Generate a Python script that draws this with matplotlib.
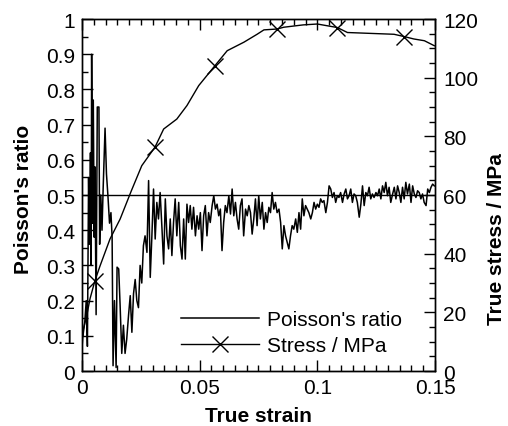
"""
Poisson's ratio and true stress against true strain, on twin y axes
"""

import matplotlib
matplotlib.use("Agg")
import matplotlib.pyplot as plt  # type: ignore
from matplotlib.ticker import MultipleLocator

plt.rcParams['font.family'] = ['Liberation Sans', 'DejaVu Sans']

# Poisson's ratio, early (noisy) part of the test
early_strain = [0.0004, 0.0012, 0.0018, 0.0023, 0.0028, 0.0032, 0.0036, 0.0039,
                0.0041, 0.0045, 0.0048, 0.0052, 0.0055, 0.0060, 0.0065, 0.0072,
                0.0075, 0.0080, 0.0085, 0.0090, 0.0098, 0.0104, 0.0110, 0.0117,
                0.0123, 0.0128, 0.0132, 0.0138, 0.0145, 0.0149, 0.0156, 0.0162,
                0.0169, 0.0176, 0.0183, 0.0190, 0.0198, 0.0205, 0.0212, 0.0219,
                0.0226, 0.0233, 0.0240, 0.0247, 0.0254, 0.0261]
early_ratio = [0.10, 0.14, 0.20, 0.07, 0.55, 0.36, 0.62, 0.30,
               0.90, 0.42, 0.77, 0.38, 0.58, 0.16, 0.75, 0.75,
               0.36, 0.50, 0.40, 0.52, 0.69, 0.56, 0.50, 0.42,
               0.45, 0.38, 0.015, 0.20, 0.01, 0.295, 0.29, 0.186,
               0.05, 0.13, 0.05, 0.09, 0.16, 0.214, 0.11, 0.22,
               0.26, 0.20, 0.18, 0.30, 0.25, 0.356]

# Poisson's ratio, rest of the test
late_strain = [0.0268, 0.0276, 0.0283, 0.0290, 0.0297, 0.0304, 0.0311, 0.0318, 0.0325, 0.0332,
               0.0340, 0.0347, 0.0354, 0.0361, 0.0368, 0.0375, 0.0382, 0.0389, 0.0396, 0.0403,
               0.0411, 0.0418, 0.0425, 0.0432, 0.0439, 0.0446, 0.0453, 0.0460, 0.0467, 0.0474,
               0.0482, 0.0489, 0.0496, 0.0503, 0.0510, 0.0517, 0.0524, 0.0531, 0.0538, 0.0545,
               0.0553, 0.0560, 0.0567, 0.0574, 0.0581, 0.0588, 0.0595, 0.0602, 0.0609, 0.0616,
               0.0624, 0.0631, 0.0638, 0.0645, 0.0652, 0.0659, 0.0666, 0.0673, 0.0680, 0.0687,
               0.0695, 0.0702, 0.0709, 0.0716, 0.0723, 0.0730, 0.0737, 0.0744, 0.0751, 0.0758,
               0.0766, 0.0773, 0.0780, 0.0787, 0.0794, 0.0801, 0.0808, 0.0815, 0.0822, 0.0829,
               0.0837, 0.0844, 0.0851, 0.0858, 0.0865, 0.0872, 0.0879, 0.0886, 0.0893, 0.0900,
               0.0908, 0.0915, 0.0922, 0.0929, 0.0936, 0.0943, 0.0950, 0.0957, 0.0964, 0.0972,
               0.0979, 0.0986, 0.0993, 0.1000, 0.1007, 0.1014, 0.1021, 0.1028, 0.1036, 0.1043,
               0.1050, 0.1057, 0.1064, 0.1071, 0.1078, 0.1085, 0.1092, 0.1099, 0.1107, 0.1114,
               0.1121, 0.1128, 0.1135, 0.1142, 0.1149, 0.1156, 0.1163, 0.1170, 0.1178, 0.1185,
               0.1192, 0.1199, 0.1206, 0.1213, 0.1220, 0.1227, 0.1234, 0.1241, 0.1249, 0.1256,
               0.1263, 0.1270, 0.1277, 0.1284, 0.1291, 0.1298, 0.1305, 0.1312, 0.1320, 0.1327,
               0.1334, 0.1341, 0.1348, 0.1355, 0.1362, 0.1369, 0.1376, 0.1383, 0.1391, 0.1398,
               0.1405, 0.1412, 0.1419, 0.1426, 0.1433, 0.1440, 0.1447, 0.1454, 0.1462, 0.1469,
               0.1476, 0.1483, 0.1490, 0.1497]
late_ratio = [0.384, 0.337, 0.541, 0.266, 0.384, 0.517, 0.375, 0.479, 0.432, 0.507,
              0.403, 0.304, 0.489, 0.384, 0.347, 0.432, 0.328, 0.422, 0.489, 0.384,
              0.479, 0.356, 0.318, 0.432, 0.318, 0.474, 0.422, 0.470, 0.403, 0.465,
              0.384, 0.441, 0.403, 0.450, 0.342, 0.441, 0.470, 0.384, 0.450, 0.422,
              0.470, 0.498, 0.460, 0.474, 0.441, 0.460, 0.342, 0.422, 0.470, 0.450,
              0.498, 0.446, 0.517, 0.441, 0.479, 0.432, 0.403, 0.470, 0.489, 0.384,
              0.460, 0.441, 0.470, 0.450, 0.389, 0.432, 0.489, 0.413, 0.498, 0.432,
              0.479, 0.403, 0.450, 0.422, 0.465, 0.450, 0.507, 0.460, 0.479, 0.450,
              0.460, 0.422, 0.347, 0.413, 0.384, 0.366, 0.347, 0.384, 0.413, 0.403,
              0.432, 0.394, 0.450, 0.403, 0.489, 0.441, 0.470, 0.460, 0.450, 0.432,
              0.450, 0.479, 0.460, 0.474, 0.465, 0.489, 0.479, 0.484, 0.450, 0.479,
              0.526, 0.517, 0.493, 0.507, 0.479, 0.498, 0.493, 0.507, 0.479, 0.503,
              0.517, 0.489, 0.498, 0.517, 0.479, 0.503, 0.498, 0.479, 0.437, 0.474,
              0.526, 0.470, 0.507, 0.498, 0.522, 0.489, 0.503, 0.493, 0.507, 0.498,
              0.517, 0.489, 0.526, 0.507, 0.536, 0.498, 0.522, 0.479, 0.503, 0.522,
              0.489, 0.526, 0.507, 0.479, 0.522, 0.489, 0.536, 0.503, 0.531, 0.479,
              0.526, 0.503, 0.493, 0.512, 0.507, 0.489, 0.503, 0.479, 0.470, 0.517,
              0.507, 0.522, 0.531, 0.526]

# True stress [MPa]
stress_strain = [0.0000, 0.0006, 0.0020, 0.0034, 0.0055, 0.0077, 0.0119, 0.0162,
                 0.0209, 0.0254, 0.0310, 0.0347, 0.0403, 0.0446, 0.0496, 0.0564,
                 0.0617, 0.0688, 0.0744, 0.0773, 0.0830, 0.0857, 0.0940, 0.1000,
                 0.1085, 0.1128, 0.1326, 0.1370, 0.1410, 0.1455, 0.1497]
stress_values = [7.5, 14.3, 18.8, 24.6, 30.8, 35.9, 45.0, 51.8,
                 61.3, 70.0, 76.3, 82.5, 85.9, 90.5, 97.3, 104.0,
                 109.2, 112.1, 114.8, 116.3, 116.6, 117.2, 118.0, 118.3,
                 117.1, 115.4, 114.8, 114.0, 113.2, 112.6, 110.9]
# strains at which the stress curve carries a cross
stress_marker_strain = [0.0055, 0.0310, 0.0564, 0.0830, 0.1085, 0.1370]

x_ticks = [0, 0.05, 0.1, 0.15]
x_tick_labels = ["0", "0.05", "0.1", "0.15"]
left_ticks = [0, 0.1, 0.2, 0.3, 0.4, 0.5, 0.6, 0.7, 0.8, 0.9, 1.0]
left_tick_labels = ["0", "0.1", "0.2", "0.3", "0.4", "0.5", "0.6", "0.7", "0.8", "0.9", "1"]
right_ticks = [0, 20, 40, 60, 80, 100, 120]

poisson_strain = early_strain + late_strain
poisson_ratio = early_ratio + late_ratio
marker_idx = [stress_strain.index(s) for s in stress_marker_strain]

FS = 15

fig = plt.figure(figsize=(5.08, 4.27), dpi=100)
ax1 = fig.add_axes([0.1614, 0.1288, 0.6949, 0.8243])
ax2 = ax1.twinx()

line_p, = ax1.plot(poisson_strain, poisson_ratio, color='black', linewidth=1.1)
ax1.axhline(0.5, color='black', linewidth=1.0)
line_s, = ax2.plot(stress_strain, stress_values, color='black', linewidth=1.0,
                   marker='x', markersize=11, markeredgewidth=1.0,
                   markevery=marker_idx)

ax1.set_xlim(0, 0.15)
ax1.set_ylim(0, 1)
ax2.set_ylim(0, 120)

ax1.set_xticks(x_ticks)
ax1.set_xticklabels(x_tick_labels)
ax1.set_yticks(left_ticks)
ax1.set_yticklabels(left_tick_labels)
ax2.set_yticks(right_ticks)
ax1.xaxis.set_minor_locator(MultipleLocator(0.005))
ax1.yaxis.set_minor_locator(MultipleLocator(0.05))
ax2.yaxis.set_minor_locator(MultipleLocator(5))

ax1.tick_params(which='both', direction='in', top=True, right=False,
                labelsize=FS)
ax1.tick_params(axis='x', which='major', pad=5)
ax1.tick_params(axis='y', which='major', pad=5)
ax1.tick_params(which='major', length=8, width=1)
ax1.tick_params(which='minor', length=4, width=1)
ax2.tick_params(which='both', direction='in', labelsize=FS)
ax2.tick_params(which='major', length=8, width=1, pad=6)
ax2.tick_params(which='minor', length=4, width=1)

for ax in (ax1, ax2):
    for spine in ax.spines.values():
        spine.set_linewidth(1.0)

ax1.set_xlabel("True strain", fontsize=FS, fontweight='bold')
ax1.set_ylabel("Poisson's ratio", fontsize=FS, fontweight='bold')
ax2.set_ylabel("True stress / MPa", fontsize=FS, fontweight='bold')
ax1.xaxis.set_label_coords(0.5, -0.099)
ax1.yaxis.set_label_coords(-0.14, 0.49)
ax2.yaxis.set_label_coords(1.147, 0.378)

ax1.legend([line_p, line_s], ["Poisson's ratio", "Stress / MPa"],
           loc='lower right', bbox_to_anchor=(0.907, 0.045), frameon=False,
           borderaxespad=0, borderpad=0,
           fontsize=FS, handlelength=3.75, handletextpad=0.4, labelspacing=0.35)

fig.savefig("out.png", dpi=100)
